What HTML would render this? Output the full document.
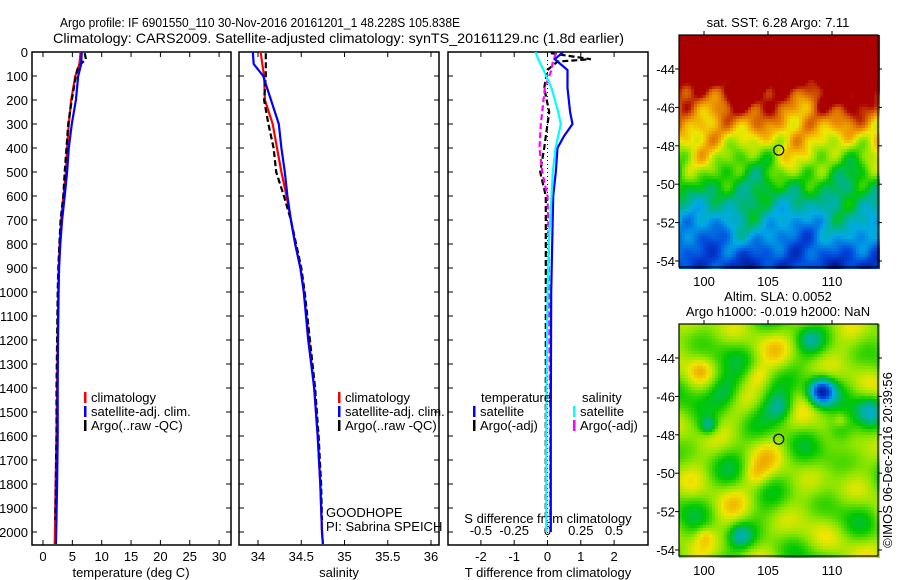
<!DOCTYPE html>
<html><head><meta charset="utf-8"><style>
html,body{margin:0;padding:0;background:#fff;}
svg{display:block;font-family:"Liberation Sans",sans-serif;}
</style></head><body>
<svg id="fig" width="900" height="580" viewBox="0 0 900 580" xmlns="http://www.w3.org/2000/svg">
<text x="60" y="27" font-size="13" textLength="400" lengthAdjust="spacingAndGlyphs">Argo profile: IF 6901550_110 30-Nov-2016 20161201_1 48.228S 105.838E</text>
<text x="53" y="43" font-size="14" textLength="571" lengthAdjust="spacingAndGlyphs">Climatology: CARS2009. Satellite-adjusted climatology: synTS_20161129.nc (1.8d earlier)</text>
<g id="p1"></g>
<g id="p2"></g>
<g id="p3"></g>
<g id="m1"></g>
<g id="m2"></g>
<text transform="translate(892,460) rotate(-90)" text-anchor="middle" font-size="13">©IMOS 06-Dec-2016 20:39:56</text>
</svg>
<script>
// ---- data ----
const depthClim = [0,50,100,200,300,400,500,600,700,800,900,1000,1200,1400,1600,1800,2000,2050];
const tempClim  = [6.4,6.2,5.5,4.8,4.4,4.1,3.9,3.5,3.1,2.85,2.7,2.6,2.5,2.4,2.3,2.15,2.05,2.0];
const tempSat   = [6.6,6.5,6.0,5.6,4.9,4.4,4.1,3.7,3.25,2.95,2.75,2.65,2.55,2.5,2.5,2.4,2.25,2.2];
const depthArgo = [5,30,60,100,200,300,400,500,600,700,800,900,1000,1200,1400,1600,1800,1950];
const tempArgo  = [7.1,7.3,6.0,5.6,4.9,4.3,4.0,3.7,3.45,3.0,2.8,2.6,2.5,2.4,2.3,2.3,2.2,2.1];
const salClim   = [34.03,34.05,34.07,34.08,34.17,34.22,34.27,34.33,34.38,34.43,34.49,34.53,34.59,34.65,34.69,34.72,34.74,34.75];
const salSat    = [33.94,33.95,34.06,34.15,34.24,34.27,34.31,34.34,34.38,34.43,34.49,34.53,34.58,34.65,34.69,34.72,34.74,34.75];
const salArgo   = [34.09,34.09,34.09,34.09,34.07,34.12,34.18,34.21,34.30,34.38,34.44,34.50,34.54,34.60,34.66,34.70,34.73,34.74];
const depthDiff = [0,30,75,150,250,300,350,400,500,600,800,1000,1500,2000];
const dTsat  = [0.47,0.22,0.6,0.6,0.68,0.75,0.5,0.3,0.25,0.17,0.14,0.11,0.1,0.1];
const dSsat  = [-0.09,-0.07,-0.03,0.03,0.08,0.1,0.08,0.06,0.04,0.03,0.01,0.0,-0.01,-0.01];
const depthDiffArgo = [5,30,40,75,150,250,300,400,500,600,800,1000,1500,1950];
const dTargo = [0.1,1.3,0.3,0.0,-0.1,0.05,0.0,-0.1,-0.22,-0.05,-0.05,-0.05,-0.05,-0.05];
const dSargo = [0.06,0.05,0.04,0.03,-0.02,-0.04,-0.05,-0.06,-0.04,0.0,0.01,0.01,0.02,0.02];
const depthTicks = [0,100,200,300,400,500,600,700,800,900,1000,1100,1200,1300,1400,1500,1600,1700,1800,1900,2000];
const tempTicks = [0,5,10,15,20,25,30];
const salTicks = [34,34.5,35,35.5,36];
const salTickLabels = ["34","34.5","35","35.5","36"];
const dTTicks = [-2,-1,0,1,2];
const dSTicks = [-0.5,-0.25,0,0.25,0.5];
const dSTickLabels = ["-0.5","-0.25","0","0.25","0.5"];
const lonTicks = [100,105,110];
const latTicks = [-44,-46,-48,-50,-52,-54];
const argoLon = 105.838, argoLat = -48.228;

// ---- helpers ----
const NS = "http://www.w3.org/2000/svg";
function mk(parent, tag, attrs){ const e=document.createElementNS(NS,tag); for(const k in attrs) e.setAttribute(k,attrs[k]); parent.appendChild(e); return e; }
const Y = d => 52 + d*0.24;
const TOP=52, BOT=545;
function frame(g,x0,x1){ const r=mk(g,'rect',{x:x0,y:TOP,width:x1-x0,height:BOT-TOP,fill:'none',stroke:'#000','stroke-width':1.5});  
  depthTicks.forEach(d=>{ mk(g,'line',{x1:x0,x2:x0+5,y1:Y(d),y2:Y(d),stroke:'#000'}); mk(g,'line',{x1:x1,x2:x1-5,y1:Y(d),y2:Y(d),stroke:'#000'}); }); }
function xticks(g,X,ticks,labels,y){ ticks.forEach((t,i)=>{ mk(g,'line',{x1:X(t),x2:X(t),y1:BOT,y2:BOT-5,stroke:'#000'}); mk(g,'line',{x1:X(t),x2:X(t),y1:TOP,y2:TOP+5,stroke:'#000'});
  const tx=mk(g,'text',{x:X(t),y:y,'font-size':13,'text-anchor':'middle'}); tx.textContent=labels[i];   }); }
function line(g,X,vals,depths,color,dash,name,w){ const pts=vals.map((v,i)=>X(v).toFixed(1)+','+Y(depths[i]).toFixed(1)).join(' ');
  const p=mk(g,'polyline',{points:pts,fill:'none',stroke:color,'stroke-width':w||2.2}); if(dash)p.setAttribute('stroke-dasharray',dash);
    }
function label(g,x,y,txt,name,anchor){ const t=mk(g,'text',{x:x,y:y,'font-size':13,'text-anchor':anchor||'start'}); t.textContent=txt;   return t;}
function legend(g,x,y,color,txt,name){ const b=mk(g,'rect',{x:x,y:y-10,width:2.5,height:11,fill:color});   label(g,x+7,y,txt,name); }

// ---- panel 1 ----
const p1=document.getElementById('p1');
const XT = v => 43 + v*5.87;
frame(p1,32,231);
depthTicks.forEach(d=>label(p1,28,Y(d)+5,String(d),'y-tick-label','end'));
xticks(p1,XT,tempTicks,tempTicks.map(String),561);
label(p1,131,577,'temperature (deg C)','x-axis-title-temperature','middle');
line(p1,XT,tempClim,depthClim,'#f00',null,'temp-climatology-line');
line(p1,XT,tempArgo,depthArgo,'#000','6,3','temp-argo-line');
line(p1,XT,tempSat,depthClim,'#00f',null,'temp-satellite-line');
legend(p1,84,402,'#f00','climatology','legend-climatology');
legend(p1,84,416,'#00f','satellite-adj. clim.','legend-satellite');
legend(p1,84,430,'#000','Argo(..raw -QC)','legend-argo');

// ---- panel 2 ----
const p2=document.getElementById('p2');
const XS = v => 258 + (v-34)*86.5;
frame(p2,239,439);
xticks(p2,XS,salTicks,salTickLabels,561);
label(p2,339,577,'salinity','x-axis-title-salinity','middle');
line(p2,XS,salClim,depthClim,'#f00',null,'sal-climatology-line');
line(p2,XS,salArgo,depthArgo,'#000','6,3','sal-argo-line');
line(p2,XS,salSat,depthClim,'#00f',null,'sal-satellite-line');
legend(p2,338,402,'#f00','climatology','legend-climatology-2');
legend(p2,338,416,'#00f','satellite-adj. clim.','legend-satellite-2');
legend(p2,338,430,'#000','Argo(..raw -QC)','legend-argo-2');
label(p2,326,517,'GOODHOPE','project-label');
label(p2,326,531,'PI: Sabrina SPEICH','pi-label');

// ---- panel 3 ----
const p3=document.getElementById('p3');
const XD = v => 547.5 + v*33.3;
const XDS = v => 547.5 + v*133.2;
frame(p3,448,648);
mk(p3,'line',{x1:547.5,x2:547.5,y1:TOP,y2:BOT,stroke:'#000','stroke-dasharray':'1,3'});
xticks(p3,XD,dTTicks,dTTicks.map(String),561);
dSTicks.forEach((t,i)=>label(p3,XDS(t),535,dSTickLabels[i],'s-tick-label','middle'));
label(p3,548,523,'S difference from climatology','s-axis-title','middle');
label(p3,548,577,'T difference from climatology','t-axis-title','middle');
line(p3,XD,dTargo,depthDiffArgo,'#000','6,3','dT-argo-line');
line(p3,XDS,dSargo,depthDiffArgo,'#f0f','6,3','dS-argo-line');
line(p3,XD,dTsat,depthDiff,'#00f',null,'dT-satellite-line');
line(p3,XDS,dSsat,depthDiff,'#0ff',null,'dS-satellite-line');
label(p3,481,402,'temperature','legend-title-temperature');
label(p3,582,402,'salinity','legend-title-salinity');
legend(p3,473,416,'#00f','satellite','legend-dT-satellite');
legend(p3,473,430,'#000','Argo(-adj)','legend-dT-argo');
legend(p3,573,416,'#0ff','satellite','legend-dS-satellite');
legend(p3,573,430,'#f0f','Argo(-adj)','legend-dS-argo');

// ---- maps ----
function jet(v){ v=Math.max(0,Math.min(1,v));
  const stops=[[0,[0,16,140]],[0.15,[0,70,220]],[0.3,[0,170,230]],[0.42,[0,180,130]],[0.52,[0,200,0]],[0.62,[140,230,0]],[0.7,[240,230,0]],[0.78,[240,160,0]],[0.86,[210,90,0]],[0.92,[170,0,0]],[1,[170,0,0]]];
  for(let i=1;i<stops.length;i++){ if(v<=stops[i][0]){ const a=stops[i-1],b=stops[i],f=(v-a[0])/(b[0]-a[0]); return 'rgb('+a[1].map((c,k)=>Math.round(c+(b[1][k]-c)*f)).join(',')+')'; } }
  return 'rgb(170,0,0)'; }
function map(g,top,field,title){
  const x0=679,x1=878,bot=top+232, LX=lon=>704+(lon-100)*12.8, LY=lat=>top+34+(-44-lat)*19.2;
  const cs=3; let html='';
  for(let yy=0;yy<232;yy+=cs) for(let xx=0;xx<199;xx+=cs) html+='<rect x="'+(x0+xx)+'" y="'+(top+yy)+'" width="'+cs+'" height="'+cs+'" fill="'+jet(field(xx,yy))+'"/>';
  const cells=mk(g,'g',{}); cells.innerHTML=html;  
  const r=mk(g,'rect',{x:x0,y:top,width:x1-x0,height:232,fill:'none',stroke:'#000','stroke-width':1.2});  
  lonTicks.forEach(l=>{ mk(g,'line',{x1:LX(l),x2:LX(l),y1:top,y2:top-4,stroke:'#000'}); label(g,LX(l),bot+19,String(l),'lon-tick-label','middle'); });
  latTicks.forEach(l=>{ mk(g,'line',{x1:x0,x2:x0-4,y1:LY(l),y2:LY(l),stroke:'#000'}); mk(g,'line',{x1:x1,x2:x1+4,y1:LY(l),y2:LY(l),stroke:'#000'}); label(g,x0-4,LY(l)+5,String(l),'lat-tick-label','end'); });
  const c=mk(g,'circle',{cx:LX(argoLon),cy:LY(argoLat),r:5,fill:'none',stroke:'#000','stroke-width':1.2});  
  title.forEach((t,i)=>label(g,778,top-(title.length-i)*15+7,t,'map-title','middle'));
}
map(document.getElementById('m1'),35,(x,y)=>1.2-1.1*(y/232)+0.08*Math.sin(x/15)*Math.cos(y/20)+0.05*Math.sin(x/7+y/11)+0.04*Math.sin(x/4.3)*Math.sin(y/5.1),['sat. SST: 6.28 Argo: 7.11']);
function gs(x,y,cx,cy,s){return Math.exp(-((x-cx)*(x-cx)+(y-cy)*(y-cy))/(2*s*s));}
map(document.getElementById('m2'),324,(x,y)=>0.61+0.06*Math.sin(x/13+1)*Math.sin(y/17)+0.05*Math.sin(x/23-y/9)+0.04*Math.cos(x/9+y/14)
  -0.55*gs(x,y,141,66,9)-0.2*gs(x,y,100,82,10)-0.18*gs(x,y,45,65,12)-0.2*gs(x,y,28,100,6)-0.2*gs(x,y,190,85,10)-0.15*gs(x,y,160,105,10)-0.17*gs(x,y,60,210,8)-0.1*gs(x,y,130,15,8)
  +0.1*gs(x,y,75,150,9)+0.09*gs(x,y,78,50,8)+0.08*gs(x,y,160,95,5)+0.08*gs(x,y,24,210,6)+0.07*gs(x,y,20,45,8),['Altim. SLA: 0.0052','Argo h1000: -0.019 h2000: NaN']);
</script>
</body></html>
